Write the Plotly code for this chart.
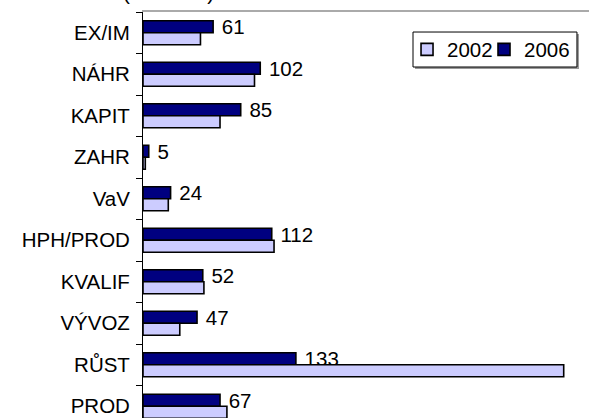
import plotly.graph_objects as go

categories = ["EX/IM", "NÁHR", "KAPIT", "ZAHR", "VaV", "HPH/PROD", "KVALIF", "VÝVOZ", "RŮST", "PROD"]
values_2006 = [61, 102, 85, 5, 24, 112, 52, 47, 133, 67]
values_2002 = [50, 97, 67, 2, 22, 114, 53, 32, 366, 73]
series_names = ["2002", "2006"]
title_text = "(v mil. Kč)"

FONT = "Arial, 'Liberation Sans', sans-serif"
FS = 20.5

fig = go.Figure()
fig.add_trace(go.Bar(
    y=categories, x=values_2006, name=series_names[1], orientation="h",
    marker=dict(color="#000080", line=dict(color="black", width=1.6)),
    texttemplate=" %{x}", textposition="outside", cliponaxis=False,
    constraintext="none",
    textfont=dict(family=FONT, size=FS, color="black"),
    legend="legend2",
))
fig.add_trace(go.Bar(
    y=categories, x=values_2002, name=series_names[0], orientation="h",
    marker=dict(color="#CCCCFF", line=dict(color="black", width=1.6)),
    legend="legend",
))

leg_common = dict(
    orientation="h", yanchor="middle", xanchor="left", y=0.9076,
    bgcolor="rgba(0,0,0,0)", borderwidth=0,
    font=dict(family=FONT, size=FS, color="black"), itemwidth=30,
)

fig.update_layout(
    width=589, height=418,
    margin=dict(l=143, r=0, t=12, b=0, pad=0, autoexpand=False),
    paper_bgcolor="white", plot_bgcolor="white",
    barmode="group", bargap=0.42, bargroupgap=0,
    font=dict(family=FONT, size=FS, color="black"),
    showlegend=True,
    legend=dict(x=0.592, **leg_common),
    legend2=dict(x=0.7646, **leg_common),
    xaxis=dict(
        range=[0, 388], side="top", showline=True, linecolor="#aaaaaa",
        linewidth=1.5, showgrid=False, zeroline=False, showticklabels=False,
        ticks="", automargin=False,
    ),
    yaxis=dict(
        range=[9.283, -0.5], type="category", showline=True, linecolor="black",
        linewidth=1, ticks="outside", ticklen=6, tickcolor="black",
        tickson="boundaries", showgrid=False, zeroline=False,
        ticklabelstandoff=8, automargin=False,
        tickfont=dict(family=FONT, size=FS, color="black"),
    ),
    shapes=[
        dict(type="rect", xref="paper", yref="paper", layer="above",
             x0=0.6099, x1=0.9775, y0=0.8596, y1=0.9458,
             fillcolor="#999999", line=dict(width=0)),
        dict(type="rect", xref="paper", yref="paper", layer="above",
             x0=0.6054, x1=0.9730, y0=0.8645, y1=0.9507,
             fillcolor="white", line=dict(color="black", width=1)),
    ],
    annotations=[dict(
        text=title_text, xref="paper", yref="paper", x=0.058, y=1.047,
        xanchor="center", yanchor="middle", showarrow=False,
        font=dict(family=FONT, size=FS, color="black"),
    )],
)

fig.write_html(
    "out.html",
    config={"displayModeBar": False},
    post_script="document.body.style.margin='0';"
                "document.documentElement.style.overflow='hidden';",
)
